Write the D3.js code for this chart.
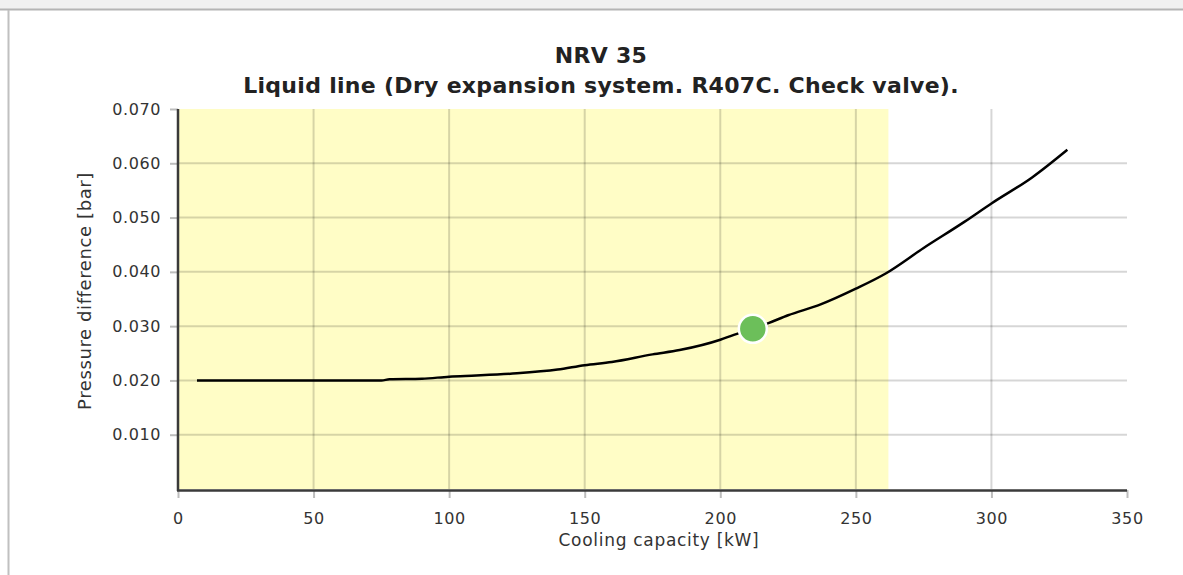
<!DOCTYPE html>
<html><head><meta charset="utf-8">
<script src="https://cdn.jsdelivr.net/npm/d3@7"></script>
<style>body{margin:0;background:#fff;overflow:hidden;} svg{display:block;}</style>
</head><body><svg id="c" width="1183" height="575"></svg>
<script>
const titleLines = ["NRV 35", "Liquid line (Dry expansion system. R407C. Check valve)."];
const xLabel = "Cooling capacity [kW]";
const yLabel = "Pressure difference [bar]";
const xTicks = [0, 50, 100, 150, 200, 250, 300, 350];
const yTicks = [0.010, 0.020, 0.030, 0.040, 0.050, 0.060, 0.070];
const capacity = [7, 25, 50, 75, 78, 90, 100, 110, 125, 140, 150, 160, 175, 185, 200, 205, 212, 218, 225, 237, 250, 261, 275, 290, 300, 315, 328];
const pressure = [0.0200, 0.0200, 0.0200, 0.0200, 0.0202, 0.0203, 0.0207, 0.0209, 0.0213, 0.0220, 0.0228, 0.0234, 0.0248, 0.0256, 0.0275, 0.0284, 0.0295, 0.0306, 0.0320, 0.0340, 0.0369, 0.0397, 0.0444, 0.0492, 0.0526, 0.0574, 0.0625];
const operatingPoint = [212, 0.0295];
const rangeLimit = 262;

const svg = d3.select("#c");
const W = 1183, H = 575;
const m = {left: 178, right: 1127, top: 109, bottom: 489};

const x = d3.scaleLinear().domain([0, 350]).range([m.left, m.right]);
const y = d3.scaleLinear().domain([0, 0.070]).range([m.bottom, m.top]);

// frame
svg.append("rect").attr("x", 0).attr("y", 0).attr("width", W).attr("height", H).attr("fill", "#fff");
svg.append("rect").attr("x", 0).attr("y", 0).attr("width", W).attr("height", 9).attr("fill", "#f0f0f0");
svg.append("line").attr("x1", 0).attr("x2", W).attr("y1", 9.5).attr("y2", 9.5).attr("stroke", "#b4b4b4").attr("stroke-width", 2);
svg.append("line").attr("x1", 8.5).attr("x2", 8.5).attr("y1", 10).attr("y2", H).attr("stroke", "#c0c0c0").attr("stroke-width", 2);

// recommended range band
svg.append("rect")
  .attr("x", x(0)).attr("y", y(0.070))
  .attr("width", x(rangeLimit) - x(0)).attr("height", y(0) - y(0.070))
  .attr("fill", "#fffdc6");

// gridlines
const grid = svg.append("g").attr("stroke", "rgba(0,0,0,0.16)").attr("stroke-width", 2);
grid.selectAll(".gx").data(xTicks.filter(d => d > 0 && d < 350)).join("line")
  .attr("x1", d => x(d)).attr("x2", d => x(d)).attr("y1", y(0.070)).attr("y2", y(0));
grid.selectAll(".gy").data(yTicks.filter(d => d < 0.069)).join("line")
  .attr("x1", x(0)).attr("x2", x(350)).attr("y1", d => y(d)).attr("y2", d => y(d));

// axes
const fontFam = "'DejaVu Sans', Verdana, sans-serif";
const xAxis = svg.append("g").attr("transform", `translate(0,${m.bottom + 1})`)
  .call(d3.axisBottom(x).tickValues(xTicks).tickFormat(d3.format("d")).tickSize(8).tickPadding(15));
const yAxis = svg.append("g").attr("transform", `translate(${m.left},0)`)
  .call(d3.axisLeft(y).tickValues(yTicks).tickFormat(d3.format(".3f")).tickSize(8).tickPadding(9));
[xAxis, yAxis].forEach(a => {
  a.select(".domain").remove();
  a.selectAll(".tick line").attr("stroke", "#bdbdbd").attr("stroke-width", 2);
  a.selectAll(".tick text").attr("fill", "#333").style("font-family", fontFam)
    .style("font-size", "16px").style("letter-spacing", "0.6px");
});
svg.append("line").attr("x1", x(0)).attr("x2", x(0)).attr("y1", y(0.070)).attr("y2", m.bottom + 2)
  .attr("stroke", "#3a3a3a").attr("stroke-width", 2.5);
svg.append("line").attr("x1", x(0) - 1).attr("x2", x(350)).attr("y1", m.bottom + 1.5).attr("y2", m.bottom + 1.5)
  .attr("stroke", "#3a3a3a").attr("stroke-width", 2.5);

// curve
const pts = capacity.map((c, i) => [c, pressure[i]]);
svg.append("path").datum(pts)
  .attr("d", d3.line().x(d => x(d[0])).y(d => y(d[1])).curve(d3.curveMonotoneX))
  .attr("fill", "none").attr("stroke", "#000").attr("stroke-width", 2.5);

// operating point
svg.append("circle").attr("cx", x(operatingPoint[0])).attr("cy", y(operatingPoint[1])).attr("r", 14)
  .attr("fill", "#6cbf5a").attr("stroke", "#fff").attr("stroke-width", 2.5);

// titles
const titleStyle = s => s.attr("text-anchor", "middle").style("font-family", fontFam)
  .style("font-size", "22px").style("font-weight", "bold").style("letter-spacing", "0.3px").attr("fill", "#222");
svg.append("text").attr("x", 601).attr("y", 63).call(titleStyle).text(titleLines[0]);
svg.append("text").attr("x", 601).attr("y", 93).call(titleStyle).text(titleLines[1]);
const labelStyle = s => s.attr("text-anchor", "middle").style("font-family", fontFam).attr("fill", "#333");
svg.append("text").attr("x", 659).attr("y", 546).call(labelStyle)
  .style("font-size", "17px").style("letter-spacing", "0.7px").text(xLabel);
svg.append("text").attr("transform", "translate(91,291) rotate(-90)").call(labelStyle)
  .style("font-size", "18px").style("letter-spacing", "0.6px").text(yLabel);
</script></body></html>
